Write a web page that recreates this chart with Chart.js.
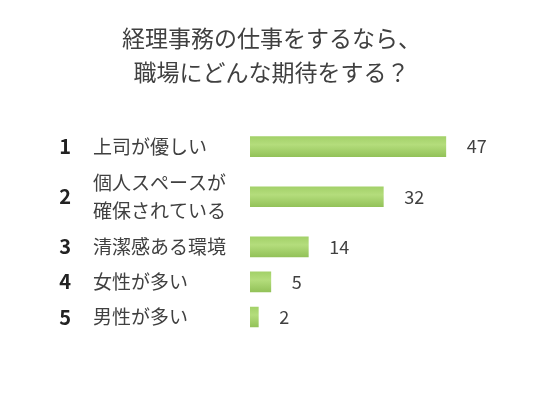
<!DOCTYPE html>
<html>
<head>
<meta charset="utf-8">
<script src="https://cdn.jsdelivr.net/npm/chart.js@4"></script>
<style>
    html, body { margin: 0; padding: 0; background: #fff; }
</style>
</head>
<body>
<canvas id="myChart" width="540" height="400"></canvas>
<script>
var titleLines = ['経理事務の仕事をするなら、', '職場にどんな期待をする？'];
var ranks = ['1', '2', '3', '4', '5'];
var categories = [
    ['上司が優しい'],
    ['個人スペースが', '確保されている'],
    ['清潔感ある環境'],
    ['女性が多い'],
    ['男性が多い']
];
var values = [47, 32, 14, 5, 2];

// rows with two-line labels get more room, like the original
var rowPos = [];
var total = 0;
categories.forEach(function (lines) {
    var h = 35 + 30 * (lines.length - 1);
    rowPos.push(total + h / 2);
    total += h;
});

var textColor = '#404040';
Chart.defaults.font.family = '"Noto Sans CJK JP", sans-serif';
Chart.defaults.color = textColor;

var valueLabels = {
    id: 'valueLabels',
    afterDatasetsDraw: function (chart) {
        var ctx = chart.ctx;
        var meta = chart.getDatasetMeta(0);
        ctx.save();
        ctx.font = '18px "Noto Sans CJK JP", sans-serif';
        ctx.fillStyle = textColor;
        ctx.textAlign = 'left';
        ctx.textBaseline = 'middle';
        meta.data.forEach(function (bar, i) {
            ctx.fillText(values[i], bar.x + 21, bar.y);
        });
        ctx.restore();
    }
};

function rowTicks(scale) {
    scale.ticks = rowPos.map(function (v) { return { value: v }; });
}

// fixed widths, and no extra room above/below for the end labels
function fixWidth(w) {
    return function (scale) {
        scale.width = w;
        scale.paddingTop = 0;
        scale.paddingBottom = 0;
    };
}

var ctx = document.getElementById('myChart').getContext('2d');
var myChart = new Chart(ctx, {
    type: 'bar',
    data: {
        datasets: [{
            data: values.map(function (v, i) { return { x: v, y: rowPos[i] }; }),
            barThickness: 20,
            borderWidth: 0,
            backgroundColor: function (context) {
                var chart = context.chart;
                if (context.type !== 'data' || !chart.chartArea) {
                    return '#a6d36c';
                }
                var y = chart.scales.y.getPixelForValue(rowPos[context.dataIndex]);
                var g = chart.ctx.createLinearGradient(0, y - 10, 0, y + 10);
                g.addColorStop(0, '#a3d169');
                g.addColorStop(0.4, '#b4dd7c');
                g.addColorStop(1, '#93c259');
                return g;
            }
        }]
    },
    options: {
        indexAxis: 'y',
        responsive: false,
        animation: false,
        layout: {
            padding: { left: 43, right: 40, top: 0, bottom: 65.5 }
        },
        plugins: {
            legend: { display: false },
            tooltip: { enabled: false },
            title: {
                display: true,
                text: titleLines,
                color: textColor,
                font: { size: 23, weight: 'normal', lineHeight: 1.48 },
                padding: { top: 21, bottom: 40 }
            }
        },
        scales: {
            x: {
                type: 'linear',
                display: false,
                min: 0,
                max: 60
            },
            y: {
                type: 'linear',
                position: 'left',
                weight: 0,
                offset: false,
                min: 0,
                max: total,
                reverse: true,
                grid: { display: false, drawTicks: false },
                border: { display: false },
                afterBuildTicks: rowTicks,
                afterFit: fixWidth(157),
                ticks: {
                    autoSkip: false,
                    crossAlign: 'far',
                    padding: 0,
                    color: textColor,
                    font: { size: 19, lineHeight: 1.5 },
                    callback: function (value, index) { return categories[index]; }
                }
            },
            yRank: {
                type: 'linear',
                position: 'left',
                weight: 1,
                offset: false,
                min: 0,
                max: total,
                reverse: true,
                grid: { display: false, drawTicks: false },
                border: { display: false },
                afterBuildTicks: rowTicks,
                afterFit: fixWidth(50),
                ticks: {
                    autoSkip: false,
                    crossAlign: 'near',
                    padding: 22,
                    color: '#222',
                    font: { size: 20, weight: 'bold', lineHeight: 1.5 },
                    callback: function (value, index) { return ranks[index]; }
                }
            }
        }
    },
    plugins: [valueLabels]
});
</script>
</body>
</html>
